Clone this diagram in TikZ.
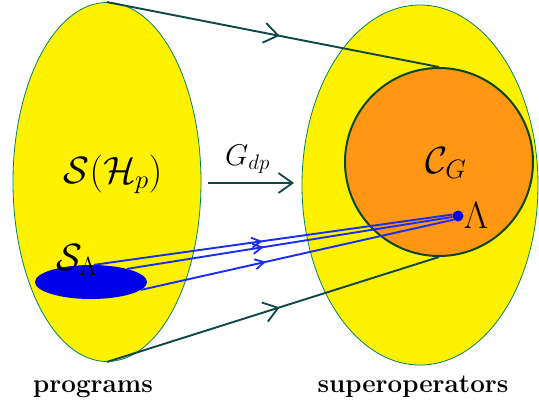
\RequirePackage{fix-cm}
\documentclass[tikz,border=0pt]{standalone}
\usetikzlibrary{shapes.geometric,arrows.meta,decorations.markings}
\definecolor{edgegreen}{RGB}{0,130,100}
\definecolor{darkline}{RGB}{15,70,70}
\definecolor{circleedge}{RGB}{10,70,30}
\definecolor{orangefill}{RGB}{255,150,20}
\definecolor{blob}{RGB}{0,0,235}
\definecolor{rayblue}{RGB}{25,45,245}
\begin{document}
\begin{tikzpicture}[x=1pt,y=-1pt,
  yellowset/.style={ellipse,fill=yellow,draw=edgegreen,line width=0.8pt,inner sep=0pt},
  orangeset/.style={circle,fill=orangefill,draw=circleedge,line width=2pt,inner sep=0pt},
  bluespot/.style={ellipse,fill=blob,inner sep=0pt},
  mapline/.style={draw=darkline,line width=1.9pt,postaction={decorate},
    decoration={markings,mark=at position #1 with {\arrow[darkline]{Straight Barb[length=14pt,width=20pt,line width=1.8pt]}}}},
  rayline/.style={draw=rayblue,line width=1.9pt,postaction={decorate},
    decoration={markings,mark=at position #1 with {\arrow[rayblue]{Straight Barb[length=9pt,width=10pt,line width=1.8pt]}}}},
  mathlabel/.style={anchor=base,inner sep=0pt,font=\fontsize{38}{40}\selectfont},
  caption/.style={anchor=base,inner sep=0pt,font=\fontsize{26}{30}\selectfont\bfseries}
]
\useasboundingbox (0,0) rectangle (539,405);
\fill[white] (0,0) rectangle (539,405);

\node[yellowset,minimum width=188pt,minimum height=359pt] (prog) at (107,182) {};
\node[yellowset,minimum width=236pt,minimum height=360pt] (sup) at (420,185) {};
\node[orangeset,minimum size=188pt] (cg) at (439,162) {};
\node[bluespot,minimum width=112pt,minimum height=34pt] (sl) at (91,282) {};
\node[circle,fill=blob,inner sep=0pt,minimum size=11pt] (lam) at (458,216) {};

\node[mathlabel] (shp) at (113,183) {$\mathcal{S}(\mathcal{H}_p)$};
\node[mathlabel,anchor=base west,font=\fontsize{30}{32}\selectfont] (gdp) at (225,165) {$G_{dp}$};
\node[mathlabel] (cglabel) at (446,173) {$\mathcal{C}_G$};
\node[mathlabel] (lamlabel) at (476,228) {$\Lambda$};
\node[mathlabel] (sllabel) at (77,270) {$\mathcal{S}_\Lambda$};

\node[caption] (progcap) at (93,392) {programs};
\node[caption] (supcap) at (413,392) {superoperators};

\coordinate (gstart) at (208,183);
\coordinate (gend) at (294,183);
\draw[darkline,line width=1.9pt,-{Straight Barb[length=14pt,width=20pt,line width=1.8pt]}] (gstart) -- (gend);

\path[mapline=0.52] (prog.north) -- (cg.north);
\path[mapline=0.52] (prog.south) -- (cg.south);

\path[rayline=0.47] (sl.80) -- (lam.165);
\path[rayline=0.42] (sl.20) -- (lam.190);
\path[rayline=0.40] (sl.-9) -- (lam.220);
\end{tikzpicture}
\end{document}
